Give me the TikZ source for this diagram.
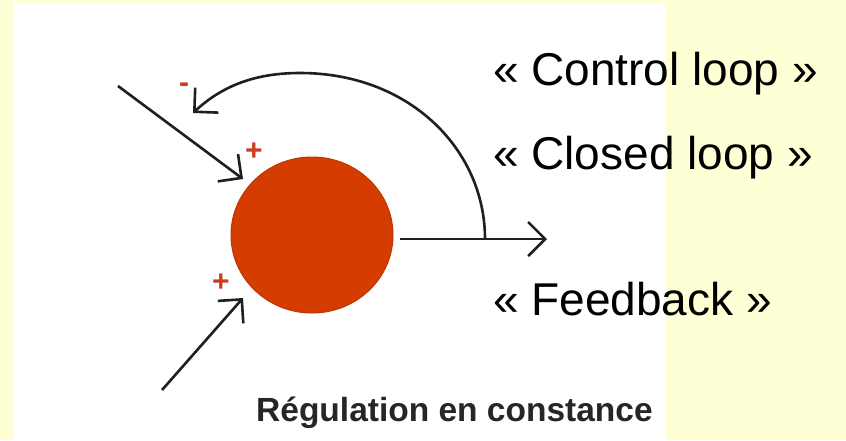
\documentclass[tikz,border=0pt]{standalone}
\usepackage{fontspec}
\setmainfont{Liberation Sans}
\usetikzlibrary{arrows.meta,shapes.geometric}
\definecolor{bgyellow}{RGB}{255,255,213}
\definecolor{ballred}{RGB}{212,60,0}
\definecolor{balledge}{RGB}{190,52,0}
\definecolor{signred}{RGB}{205,60,30}
\definecolor{linegray}{RGB}{30,30,35}
\tikzset{
  flow/.style={draw=linegray, line width=2.6pt, -{Straight Barb[length=17pt,width=34pt,line width=2.6pt]}},
  bigtext/.style={anchor=base west, inner sep=0pt, font=\fontsize{46}{50}\selectfont},
  captiontext/.style={anchor=base west, inner sep=0pt, font=\fontsize{33.5}{38}\selectfont\bfseries, text=black!85},
  signtext/.style={inner sep=0pt, text=signred, font=\fontsize{30}{32}\selectfont\bfseries}
}
\begin{document}
\begin{tikzpicture}[x=1pt,y=-1pt]
\useasboundingbox (0,0) rectangle (846,440);
\fill[bgyellow] (0,0) rectangle (846,440);
\fill[white] (14,3) rectangle (665,440);

\node[ellipse, fill=ballred, draw=balledge, line width=1pt, minimum width=162pt, minimum height=156pt, inner sep=0pt] (sum) at (312,235) {};

% inputs
\coordinate (in1s) at (118,86);
\coordinate (in1e) at (243,179);
\coordinate (in2s) at (162,390);
\coordinate (in2e) at (243,298);
\draw[flow] (in1s) -- (in1e);
\draw[flow] (in2s) -- (in2e);

% output
\coordinate (outs) at (400,239);
\coordinate (junc) at (485,239);
\coordinate (oute) at (547,239);
\draw[flow] (outs) -- (oute);

% feedback arc
\coordinate (fbe) at (193,113);
\draw[flow] (junc) .. controls (485,150) and (410,73) .. (300,73) .. controls (255,73) and (222,86) .. (fbe);

% signs
\node[signtext] (p1) at (254,152) {+};
\node[signtext] (p2) at (221,283) {+};
\node[signtext] (m1) at (184,88) {-};

% labels
\node[bigtext] (t1) at (493,85) {« Control loop »};
\node[bigtext] (t2) at (493,169) {« Closed loop »};
\node[bigtext] (t3) at (493,315) {« Feedback »};
\node[captiontext] (cap) at (256,421) {Régulation en constance};
\end{tikzpicture}
\end{document}
